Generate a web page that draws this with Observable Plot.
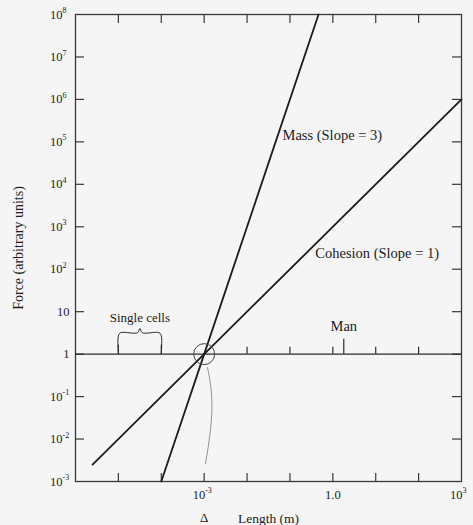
<!DOCTYPE html>
<html><head><meta charset="utf-8">
<script src="https://cdn.jsdelivr.net/npm/d3@7"></script>
<script src="https://cdn.jsdelivr.net/npm/@observablehq/plot@0.6"></script>
<style>
html,body{margin:0;padding:0;background:#f5f5f5;}
#chart svg{display:block;background:#f5f5f5;}
</style></head><body><div id="chart"></div>
<script>
// Y tick labels: powers of ten drawn as base + raised exponent
const yExpValues = [1e-3, 1e-2, 1e-1, 100, 1e3, 1e4, 1e5, 1e6, 1e7, 1e8];
const yExpTexts = ["-3", "-2", "-1", "2", "3", "4", "5", "6", "7", "8"];
const yPlainValues = [1, 10];
const yPlainTexts = ["1", "10"];
const yInnerTicks = [1e-2, 1e-1, 1, 10, 100, 1e3, 1e4, 1e5, 1e6, 1e7];
// X tick labels
const xInnerTicks = [1e-5, 1e-4, 1e-3, 1e-2, 1e-1, 1, 10, 100];
const xExpValues = [1e-3, 1e3];
const xExpTexts = ["-3", "3"];
const xPlainValues = [1];
const xPlainTexts = ["1.0"];

// Series
const cohesionX = [2.5e-6, 1e-3, 1e3];
const cohesionY = [2.5e-3, 1, 1e6];
const massX = [1e-4, 1e-3, 0.464];
const massY = [1e-3, 1, 1e8];

// Annotations on the "1" baseline
const baselineTicks = [1e-2, 1e-1, 1, 10, 100];
const cellTicks = [1e-5, 1e-4];
const manX = [1.8];
const bracketX = [1e-5, 1e-5, 1.12e-5, 2.8e-5, 3.16e-5, 3.6e-5, 8.9e-5, 1e-4, 1e-4];
const bracketY = [1, 2.7, 3.2, 3.2, 4.0, 3.2, 3.2, 2.7, 1];
const pointerX = [1.2e-3, 1.5e-3, 1.4e-3, 1.07e-3];
const pointerY = [0.48, 0.1, 0.016, 2.6e-3];

// Labels
const lineLabelTexts = ["Mass (Slope = 3)", "Cohesion (Slope = 1)"];
const lineLabelX = [0.067, 0.39];
const lineLabelY = [1.4e5, 235];

const zip = (xs, ys) => xs.map((x, i) => ({x, y: ys[i]}));
const ink = "#1c1c1c";
const font = "Liberation Serif";
const frameInk = "#3a3a3a";

const plot = Plot.plot({
  width: 473, height: 525,
  marginLeft: 75, marginRight: 12, marginTop: 14, marginBottom: 44,
  style: {fontFamily: font, background: "#f5f5f5", color: ink},
  x: {type: "log", domain: [1e-6, 1e3], axis: null},
  y: {type: "log", domain: [1e-3, 1e8], axis: null},
  marks: [
    Plot.frame({stroke: frameInk, strokeWidth: 1.3}),
    // inward ticks on four sides
    Plot.ruleX(xInnerTicks, {x: d => d, y1: 1e-3, y2: 1e-3, insetTop: -8, stroke: frameInk, strokeWidth: 1.2}),
    Plot.ruleX(xInnerTicks, {x: d => d, y1: 1e8, y2: 1e8, insetBottom: -9, stroke: frameInk, strokeWidth: 1.2}),
    Plot.ruleY(yInnerTicks, {y: d => d, x1: 1e-6, x2: 1e-6, insetRight: -9, stroke: frameInk, strokeWidth: 1.2}),
    Plot.ruleY(yInnerTicks, {y: d => d, x1: 1e3, x2: 1e3, insetLeft: -9, stroke: frameInk, strokeWidth: 1.2}),
    // y tick labels
    Plot.text(yExpValues, {y: d => d, frameAnchor: "left", text: () => "10", textAnchor: "end", dx: -13, fontSize: 12.5, fill: ink}),
    Plot.text(yExpValues, {y: d => d, frameAnchor: "left", text: (d, i) => yExpTexts[i], textAnchor: "start", dx: -13, dy: -4, fontSize: 8, fill: ink}),
    Plot.text(yPlainValues, {y: d => d, frameAnchor: "left", text: (d, i) => yPlainTexts[i], textAnchor: "end", dx: -6, fontSize: 12.5, fill: ink}),
    // x tick labels
    Plot.text(xExpValues, {x: d => d, frameAnchor: "bottom", text: () => "10", textAnchor: "end", dx: 1, dy: 13, lineAnchor: "middle", fontSize: 12.5, fill: ink}),
    Plot.text(xExpValues, {x: d => d, frameAnchor: "bottom", text: (d, i) => xExpTexts[i], textAnchor: "start", dx: 1, dy: 9, lineAnchor: "middle", fontSize: 8, fill: ink}),
    Plot.text(xPlainValues, {x: d => d, frameAnchor: "bottom", text: (d, i) => xPlainTexts[i], textAnchor: "middle", dy: 13, lineAnchor: "middle", fontSize: 12.5, fill: ink}),
    // baseline at 1
    Plot.ruleY([1], {stroke: "#2a2a2a", strokeWidth: 1.3}),
    Plot.ruleX(baselineTicks, {x: d => d, y1: 1, y2: 1, insetTop: -7, stroke: "#2a2a2a", strokeWidth: 1.2}),
    Plot.ruleX(cellTicks, {x: d => d, y1: 1, y2: 1, insetTop: -9, stroke: "#2a2a2a", strokeWidth: 1.2}),
    Plot.ruleX(manX, {x: d => d, y1: 1, y2: 1, insetTop: -15, stroke: "#2a2a2a", strokeWidth: 1.2}),
    Plot.line(zip(bracketX, bracketY), {x: "x", y: "y", stroke: "#2a2a2a", strokeWidth: 1, curve: "catmull-rom"}),
    // series lines
    Plot.line(zip(cohesionX, cohesionY), {x: "x", y: "y", stroke: ink, strokeWidth: 1.8}),
    Plot.line(zip(massX, massY), {x: "x", y: "y", stroke: ink, strokeWidth: 1.8}),
    // circled intersection and hand-drawn pointer
    Plot.dot([{x: 1e-3, y: 1}], {x: "x", y: "y", r: 10.5, stroke: "#444", strokeWidth: 1, fill: "none"}),
    Plot.line(zip(pointerX, pointerY), {x: "x", y: "y", stroke: "#888", strokeWidth: 0.9, curve: "natural"}),
    // labels
    Plot.text(lineLabelTexts.map((t, i) => ({t, x: lineLabelX[i], y: lineLabelY[i]})),
      {x: "x", y: "y", text: "t", textAnchor: "start", fontSize: 14.5, fill: ink}),
    Plot.text([{t: "Single cells", x: 3.16e-5, y: 7.2}], {x: "x", y: "y", text: "t", fontSize: 13, fill: ink}),
    Plot.text([{t: "Man", x: 1.8, y: 4.5}], {x: "x", y: "y", text: "t", fontSize: 14.5, fill: ink}),
    Plot.text(["Force (arbitrary units)"], {frameAnchor: "left", rotate: -90, dx: -57, textAnchor: "middle", lineAnchor: "middle", fontSize: 14, fill: ink}),
    Plot.text(["Length (m)"], {frameAnchor: "bottom", dy: 37, textAnchor: "middle", lineAnchor: "middle", fontSize: 13.5, fill: ink}),
    Plot.text(["Δ"], {x: [1e-3], frameAnchor: "bottom", dy: 36, lineAnchor: "middle", fontSize: 13, fill: ink})
  ]
});
document.getElementById("chart").appendChild(plot);
</script>
</body></html>
